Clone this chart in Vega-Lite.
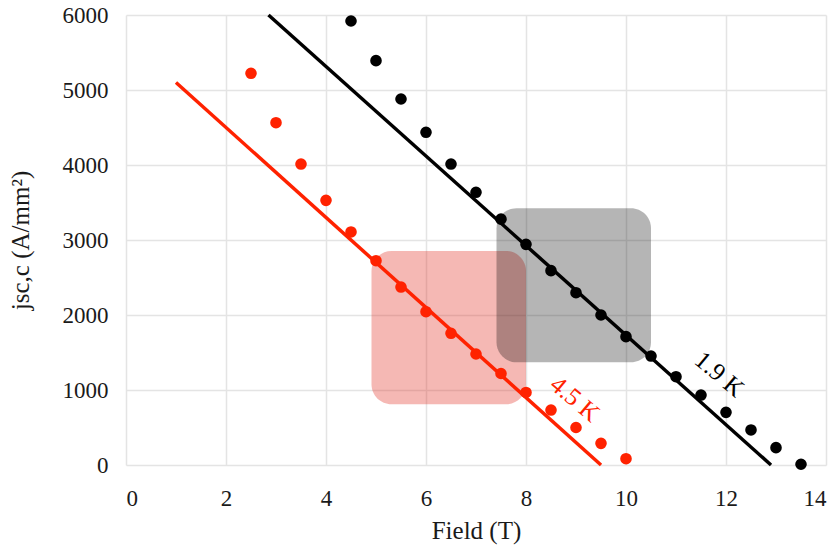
{
  "$schema": "https://vega.github.io/schema/vega-lite/v6.json",
  "width": 700,
  "height": 450,
  "autosize": {"type": "none"},
  "padding": {"left": 126, "top": 15, "right": 11, "bottom": 80},
  "background": "white",
  "config": {
    "font": "Liberation Serif",
    "view": {"stroke": null},
    "axis": {
      "domain": false,
      "ticks": false,
      "grid": true,
      "gridColor": "#e4e4e4",
      "gridWidth": 1.5,
      "labelFont": "Liberation Serif",
      "labelFontSize": 23,
      "labelColor": "#1a1a1a",
      "titleFont": "Liberation Serif",
      "titleFontSize": 25,
      "titleFontWeight": "normal",
      "titleColor": "#1a1a1a"
    }
  },
  "datasets": {
    "points": [
      {"T": "4.5 K", "field": 2.5, "j": 5223},
      {"T": "4.5 K", "field": 3.0, "j": 4564},
      {"T": "4.5 K", "field": 3.5, "j": 4013},
      {"T": "4.5 K", "field": 4.0, "j": 3529},
      {"T": "4.5 K", "field": 4.5, "j": 3107},
      {"T": "4.5 K", "field": 5.0, "j": 2724},
      {"T": "4.5 K", "field": 5.5, "j": 2373},
      {"T": "4.5 K", "field": 6.0, "j": 2044},
      {"T": "4.5 K", "field": 6.5, "j": 1756},
      {"T": "4.5 K", "field": 7.0, "j": 1480},
      {"T": "4.5 K", "field": 7.5, "j": 1220},
      {"T": "4.5 K", "field": 8.0, "j": 967},
      {"T": "4.5 K", "field": 8.5, "j": 733},
      {"T": "4.5 K", "field": 9.0, "j": 500},
      {"T": "4.5 K", "field": 9.5, "j": 289},
      {"T": "4.5 K", "field": 10.0, "j": 84},
      {"T": "1.9 K", "field": 4.5, "j": 5920},
      {"T": "1.9 K", "field": 5.0, "j": 5391},
      {"T": "1.9 K", "field": 5.5, "j": 4880},
      {"T": "1.9 K", "field": 6.0, "j": 4436},
      {"T": "1.9 K", "field": 6.5, "j": 4013},
      {"T": "1.9 K", "field": 7.0, "j": 3636},
      {"T": "1.9 K", "field": 7.5, "j": 3278},
      {"T": "1.9 K", "field": 8.0, "j": 2942},
      {"T": "1.9 K", "field": 8.5, "j": 2591},
      {"T": "1.9 K", "field": 9.0, "j": 2297},
      {"T": "1.9 K", "field": 9.5, "j": 2000},
      {"T": "1.9 K", "field": 10.0, "j": 1711},
      {"T": "1.9 K", "field": 10.5, "j": 1453},
      {"T": "1.9 K", "field": 11.0, "j": 1177},
      {"T": "1.9 K", "field": 11.5, "j": 933},
      {"T": "1.9 K", "field": 12.0, "j": 702},
      {"T": "1.9 K", "field": 12.5, "j": 467},
      {"T": "1.9 K", "field": 13.0, "j": 231},
      {"T": "1.9 K", "field": 13.5, "j": 10}
    ],
    "lines": [
      {"T": "4.5 K", "field": 1.0, "j": 5100},
      {"T": "4.5 K", "field": 9.5, "j": 0},
      {"T": "1.9 K", "field": 2.85, "j": 6000},
      {"T": "1.9 K", "field": 12.9, "j": 0}
    ],
    "boxes": [
      {"T": "4.5 K", "x1": 4.91, "x2": 8.0, "y1": 809, "y2": 2853},
      {"T": "1.9 K", "x1": 7.41, "x2": 10.5, "y1": 1369, "y2": 3423}
    ],
    "labels": [
      {"T": "1.9 K", "field": 11.87, "j": 1210},
      {"T": "4.5 K", "field": 8.98, "j": 880}
    ]
  },
  "layer": [
    {
      "data": {"name": "boxes"},
      "transform": [{"filter": "datum.T === '4.5 K'"}],
      "mark": {"type": "rect", "cornerRadius": 20, "color": "#e2261c", "opacity": 0.33},
      "encoding": {
        "x": {"field": "x1", "type": "quantitative", "scale": {"domain": [0, 14], "nice": false}, "axis": {"values": [0, 2, 4, 6, 8, 10, 12, 14], "format": "d", "title": "Field (T)", "labelPadding": 22, "titlePadding": 8}},
        "x2": {"field": "x2"},
        "y": {"field": "y1", "type": "quantitative", "scale": {"domain": [0, 6000], "nice": false}, "axis": {"values": [0, 1000, 2000, 3000, 4000, 5000, 6000], "format": "d", "title": "jsc,c (A/mm²)", "labelPadding": 18, "titlePadding": 29}},
        "y2": {"field": "y2"}
      }
    },
    {
      "data": {"name": "boxes"},
      "transform": [{"filter": "datum.T === '1.9 K'"}],
      "mark": {"type": "rect", "cornerRadius": 20, "color": "#000000", "opacity": 0.29},
      "encoding": {
        "x": {"field": "x1", "type": "quantitative"},
        "x2": {"field": "x2"},
        "y": {"field": "y1", "type": "quantitative"},
        "y2": {"field": "y2"}
      }
    },
    {
      "data": {"name": "lines"},
      "mark": {"type": "line", "strokeWidth": 3.5},
      "encoding": {
        "x": {"field": "field", "type": "quantitative"},
        "y": {"field": "j", "type": "quantitative"},
        "detail": {"field": "T"},
        "color": {"field": "T", "type": "nominal", "scale": {"domain": ["4.5 K", "1.9 K"], "range": ["#ff2200", "#000000"]}, "legend": null}
      }
    },
    {
      "data": {"name": "points"},
      "mark": {"type": "circle", "size": 135, "opacity": 1},
      "encoding": {
        "x": {"field": "field", "type": "quantitative"},
        "y": {"field": "j", "type": "quantitative"},
        "color": {"field": "T", "type": "nominal", "legend": null}
      }
    },
    {
      "data": {"name": "labels"},
      "mark": {"type": "text", "angle": 40, "fontSize": 25, "font": "Liberation Serif", "align": "center", "baseline": "middle"},
      "encoding": {
        "x": {"field": "field", "type": "quantitative"},
        "y": {"field": "j", "type": "quantitative"},
        "text": {"field": "T"},
        "color": {"field": "T", "type": "nominal", "legend": null}
      }
    }
  ]
}
